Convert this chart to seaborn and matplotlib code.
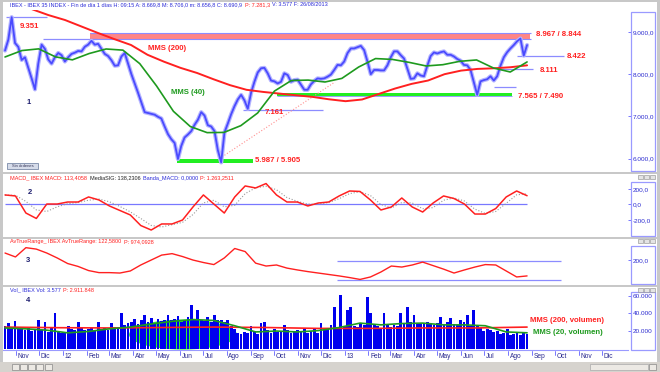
import numpy as np
import pandas as pd
import seaborn as sns
import matplotlib.pyplot as plt
import matplotlib.dates as mdates
import matplotlib.transforms as mtransforms
from matplotlib.patches import Rectangle, Ellipse

# ---- datos (IBEX 35, oct 2011 - ago 2013) ----
price = [8560, 8820, 9351, 8740, 8645, 8337, 8400, 8150, 7900, 7640,
         8250, 8700, 8600, 8350, 8250, 8400, 8502, 8450, 8300, 8400,
         8480, 8510, 8550, 8540, 8650, 8700, 8790, 8700, 8720, 8600,
         8480, 8430, 8330, 8200, 8210, 8420, 8500, 8250, 8000, 7780,
         7560, 7330, 7100, 7080, 7060, 7040, 6990, 6950, 6760, 6580,
         6460, 6370, 5990, 6300, 6500, 6570, 6650, 6800, 6920, 7100,
         7020, 6790, 6760, 6650, 6200, 5910, 6620, 6830, 7050, 7240,
         7400, 7510, 7380, 7180, 7560, 7820, 8040, 8140, 8150, 8020,
         7850, 7830, 7780, 7820, 8020, 7980, 7820, 7860, 7870, 7750,
         7630, 7630, 7760, 7840, 7900, 7890, 7900, 7940, 7990, 8100,
         8220, 8210, 8300, 8500, 8610, 8610, 8640, 8670, 8570, 8300,
         8000, 8100, 8100, 8090, 8090, 8210, 8400, 8540, 8540, 8450,
         8370, 8130, 7890, 7900, 8020, 7970, 7950, 8200, 8430, 8515,
         8490, 8520, 8540, 8460, 8460, 8420, 8360, 8320, 8220, 8210,
         8100, 7800, 7510, 7830, 7860, 7880, 7950, 7850, 7950, 8200,
         8400, 8520, 8610, 8690, 8780, 8844, 8440, 8690]
mms40 = [8408, 8560, 8600, 8410, 8340, 8490, 8597, 8570, 8250, 7720,
         7120, 6760, 6615, 6620, 6780, 7080, 7600, 7850, 7860, 7815,
         7900, 8170, 8370, 8350, 8280, 8195, 8225, 8305, 8337, 8147,
         8052, 8290]
mms200 = [9540, 9400, 9284, 9130, 8976, 8830, 8692, 8460, 8296, 8150,
          8029, 7880, 7740, 7630, 7580, 7540, 7500, 7462, 7405, 7360,
          7400, 7530, 7660, 7770, 7850, 8000, 8085, 8125, 8140, 8165,
          8210]
macd = [123, 110, -110, -180, 6, 6, 32, 32, 97, 58,
        -19, -77, -135, -271, -329, -251, -251, -200, -32, 123,
        6, -110, 97, 239, 213, 270, 123, 32, 32, -19,
        19, 32, 110, 174, 168, 58, -71, -32, 84, -32,
        -97, 19, 110, 77, 6, -123, -123, -52, 97, 174, 113]
macd_sig = [120, 118, 40, -70, -90, -30, 10, 25, 55, 70,
            35, -25, -95, -180, -270, -290, -260, -230, -130, 20,
            55, -30, -10, 140, 215, 235, 190, 90, 40, 5,
            5, 25, 75, 140, 165, 115, 0, -45, 25, 20,
            -55, -40, 55, 85, 45, -60, -115, -90, 15, 125, 138]
atr = [234, 215, 260, 253, 234, 210, 183, 169, 149, 139,
       139, 137, 147, 176, 200, 224, 231, 217, 200, 188,
       178, 210, 256, 241, 185, 171, 176, 161, 152, 144,
       137, 130, 123, 115, 106, 118, 142, 171, 166, 176,
       190, 173, 156, 137, 152, 166, 178, 176, 147, 118, 123]
volume = [26000, 29000, 22000, 31000, 24000, 22000, 21000, 23000, 20000, 22000,
          33000, 21000, 30000, 19000, 24000, 41000, 20000, 18000, 19000,
          26000, 22000, 21000, 30000, 23000, 21000, 22000, 24000, 20000,
          30000, 22000, 23000, 21000, 29000, 25000, 22000, 41000, 27000, 29000,
          30000, 34000, 28000, 33000, 38000, 30000, 35000, 29000, 34000, 31000,
          33000, 38000, 32000, 34000, 37000, 30000, 33000, 36000, 50000, 32000,
          44000, 33000, 31000, 36000, 30000, 38000, 32000, 33000, 30000, 32000,
          26000, 22000, 18000, 17000, 19000, 18000, 26000, 20000, 17000, 29000,
          30000, 21000, 18000, 22000, 19000, 20000, 27000, 21000, 18000, 20000,
          21000, 19000, 22000, 18000, 20000, 23000, 18000, 29000, 21000, 22000,
          27000, 47000, 25000, 61000, 26000, 44000, 47000, 26000, 25000, 29000,
          27000, 59000, 40000, 27000, 26000, 24000, 40000, 27000, 25000, 27000,
          26000, 41000, 28000, 47000, 30000, 38000, 29000, 28000, 29000, 30000,
          28000, 27000, 29000, 36000, 27000, 30000, 35000, 28000, 27000, 32000,
          30000, 38000, 26000, 44000, 27000, 24000, 20000, 22000, 21000, 19000,
          20000, 17000, 18000, 22000, 16000, 17000, 18000, 16000, 19000, 17000]
vol_mms20 = [23500, 22500, 21000, 18000, 19500, 22500, 24500, 28000, 31000, 33000,
             32000, 26000, 19000, 20000, 19000, 20500, 24000, 29000, 27000, 28500,
             29000, 27000, 27000, 26000, 19000, 18000]
vol_mms200 = [24500, 23800, 23500, 24000, 24500, 24000, 23000, 23000, 23500, 23500, 24500]
month_labels = ['Nov', 'Dic', '12', 'Feb', 'Mar', 'Abr', 'May', 'Jun', 'Jul', 'Ago',
                'Sep', 'Oct', 'Nov', 'Dic', '13', 'Feb', 'Mar', 'Abr', 'May', 'Jun',
                'Jul', 'Ago', 'Sep', 'Oct', 'Nov', 'Dic']

START, END = '2011-10-18', '2013-08-26'
d_price = pd.date_range(START, END, periods=len(price))
d_vol = pd.date_range(START, END, periods=len(volume))
d_m40 = pd.date_range(START, END, periods=len(mms40))
d_m200 = pd.date_range('2011-11-22', END, periods=len(mms200))
d_osc = pd.date_range(START, END, periods=len(macd))
d_v20 = pd.date_range(START, END, periods=len(vol_mms20))
d_v200 = pd.date_range(START, END, periods=len(vol_mms200))
months = pd.date_range('2011-11-01', '2013-12-01', freq='MS')

sns.set_style('white')
plt.rcParams['font.family'] = ['Liberation Sans', 'DejaVu Sans']

W, H = 660, 372
fig = plt.figure(figsize=(6.6, 3.72), dpi=100)
fig.patch.set_facecolor('white')


def box(x0, y0, x1, y1):
    return [x0 / W, 1 - y1 / H, (x1 - x0) / W, (y1 - y0) / H]


def rect(x0, y0, x1, y1, **kw):
    fig.patches.append(Rectangle((x0 / W, 1 - y1 / H), (x1 - x0) / W, (y1 - y0) / H,
                                 transform=fig.transFigure, figure=fig, **kw))


def px_date(px):
    return pd.Timestamp('2011-11-01') + pd.Timedelta(days=(px - 15.8) * 1.2987)


def ftext(x, y, s, **kw):
    return fig.text(x / W, 1 - y / H, s, **kw)


ax1 = fig.add_axes(box(3, 10, 628, 172))
ax2 = fig.add_axes(box(3, 174, 628, 237))
ax3 = fig.add_axes(box(3, 239, 628, 285))
ax4 = fig.add_axes(box(3, 287, 628, 350))

BLUE_LINE = '#8c8cff'
RED = '#ff2020'
GREEN = '#1e9a1e'

# ---- panel 1: precio ----
ax1.fill_between([px_date(90), px_date(530)], 8844, 8967, color='#ff8585', lw=0)
ax1.hlines([8967, 8844], px_date(90), px_date(531), color=BLUE_LINE, lw=0.8)
ax1.fill_between([px_date(277), px_date(512)], 7490, 7565, color='#22ee22', lw=0)
ax1.hlines(7490, px_date(277), px_date(512), color=BLUE_LINE, lw=0.6)
ax1.fill_between([px_date(177), px_date(253)], 5905, 5987, color='#22ee22', lw=0)
ax1.hlines(9351, px_date(6), px_date(47), color=BLUE_LINE, lw=0.9)
ax1.hlines(8830, px_date(43), px_date(97), color=BLUE_LINE, lw=0.9)
ax1.hlines(7161, px_date(243), px_date(323), color=BLUE_LINE, lw=0.9)
ax1.hlines(8422, px_date(517), px_date(564), color=BLUE_LINE, lw=0.9)
ax1.hlines(8111, px_date(500), px_date(533), color=BLUE_LINE, lw=0.9)
ax1.hlines(7690, px_date(494), px_date(516), color=BLUE_LINE, lw=0.9)
ax1.plot([px_date(222), px_date(335)], [6040, 7815], color='#ff9090', lw=0.8, ls=':')

sns.lineplot(x=d_price, y=price, ax=ax1, color='#b4b4ff', lw=3.0)
sns.lineplot(x=d_price, y=price, ax=ax1, color='#4a4aff', lw=1.3)
sns.lineplot(x=d_m200, y=mms200, ax=ax1, color=RED, lw=1.4)
sns.lineplot(x=d_m40, y=mms40, ax=ax1, color=GREEN, lw=1.2)
ax1.set_ylim(5682, 9521)

# ---- panel 2: MACD ----
ax2.hlines(0, d_osc[0], d_osc[-1], color='#7878ff', lw=0.9)
sns.lineplot(x=d_osc, y=macd_sig, ax=ax2, color='#999999', lw=0.8, ls=':')
sns.lineplot(x=d_osc, y=macd, ax=ax2, color=RED, lw=1.1)
ax2.set_ylim(-419, 393)

# ---- panel 3: ATR ----
ax3.hlines([197, 103], px_date(337), px_date(561), color=BLUE_LINE, lw=0.9)
sns.lineplot(x=d_osc, y=atr, ax=ax3, color=RED, lw=1.0)
ax3.set_ylim(79, 302)

# ---- panel 4: volumen ----
xc = mdates.date2num(px_date(183))
ax4.add_patch(Ellipse((xc, 16000), 140, 34000, color='#33ee33', lw=0, zorder=0))
ax4.bar(d_vol, volume, width=3.6, color='#0000ee', lw=0, zorder=1)
sns.lineplot(x=d_v200, y=vol_mms200, ax=ax4, color=RED, lw=1.2, zorder=2)
sns.lineplot(x=d_v20, y=vol_mms20, ax=ax4, color=GREEN, lw=1.2, zorder=3)
ax4.set_ylim(-1470, 69900)

ticks = {ax1: ([6000, 7000, 8000, 9000], ['6.000,0', '7.000,0', '8.000,0', '9.000,0']),
         ax2: ([-200, 0, 200], ['-200,0', '0,0', '200,0']),
         ax3: ([200], ['200,0']),
         ax4: ([20000, 40000, 60000], ['20.000', '40.000', '60.000'])}
for ax, (tv, tl) in ticks.items():
    ax.set_xlim(px_date(3), px_date(628))
    ax.set_xticks([])
    ax.set_xlabel('')
    ax.set_ylabel('')
    ax.yaxis.tick_right()
    ax.set_yticks(tv)
    ax.set_yticklabels(tl)
    ax.tick_params(axis='y', length=2.2, width=0.6, color='#6060ff', labelcolor='#2a2ad0',
                   labelsize=4.6, pad=1.4)
    for s in ax.spines.values():
        s.set_visible(False)
ax4.spines['bottom'].set_visible(True)
ax4.spines['bottom'].set_color('#9a9aff')
ax4.spines['bottom'].set_linewidth(0.8)

# etiquetas de meses
trans = mtransforms.blended_transform_factory(ax4.transData, fig.transFigure)
for d, lab in zip(months, month_labels):
    xn = mdates.date2num(d)
    ax4.plot([xn, xn], [1 - 350.5 / H, 1 - 355 / H], transform=trans, color='#6060ff',
             lw=0.6, clip_on=False)
    ax4.text(xn + 2.2, 1 - 357 / H, lab, transform=trans, fontsize=4.8, color='#2a2a90',
             ha='left', va='center')

# ---- marco de ventana ----
GRAY = '#c8c8c8'
rect(0, 0, 660, 2, color=GRAY, lw=0)
rect(0, 0, 3, 362, color=GRAY, lw=0)
rect(657, 0, 660, 362, color=GRAY, lw=0)
for y0, y1 in [(172, 174), (237, 239), (285, 287)]:
    rect(0, y0, 660, y1, color=GRAY, lw=0)
rect(0, 362, 660, 372, color='#d6d3ce', lw=0)
for x in [12, 20, 28, 36, 45]:
    rect(x, 364, x + 7, 370, facecolor='#ece9e4', edgecolor='#888888', lw=0.5)
rect(590, 364, 648, 370, facecolor='#ece9e4', edgecolor='#aaaaaa', lw=0.5)
rect(649, 364, 656, 370, facecolor='#ece9e4', edgecolor='#888888', lw=0.5)
for y0, y1 in [(12, 171), (182, 236), (246, 284), (292, 350)]:
    rect(631, y0, 655, y1, fill=False, edgecolor='#9a9aff', lw=0.9)
for y0 in [175, 239, 288]:
    for x in [638, 644, 650]:
        rect(x, y0, x + 5, y0 + 4, facecolor='#e4e4e4', edgecolor='#8a8a8a', lw=0.4)

rect(7, 163, 38, 169, facecolor='#d6dcea', edgecolor='#7a8aa8', lw=0.6)
ftext(22.5, 166, 'Sin órdenes', fontsize=3.0, color='#333355', ha='center', va='center')

# ---- textos de cabecera ----
renderer = fig.canvas.get_renderer()


def colored_line(x, y, parts, size=4.0):
    for txt, col in parts:
        t = ftext(x, y, txt, color=col, fontsize=size, va='center', ha='left')
        x += t.get_window_extent(renderer).width + 2.5


colored_line(10, 5, [('IBEX - IBEX 35 INDEX - Fin de día 1 días H: 09:15 A: 8.669,8 '
                      'M: 8.706,0 m: 8.656,8 C: 8.690,9', '#2b2bd8'),
                     ('P: 7.281,3', '#ff2020'), ('V: 3.577 F: 26/08/2013', '#2b2bd8')])
colored_line(10, 177.5, [('MACD_ IBEX MACD: 113,4058', '#ff2020'),
                         ('MediaSIG: 138,2306', '#222222'),
                         ('Banda_MACD: 0,0000', '#2b2bd8'), ('P: 1.263,2511', '#ff2020')])
colored_line(10, 242, [('AvTrueRange_ IBEX AvTrueRange: 122,5800', '#ff2020'),
                       ('P: 974,0928', '#ff2020')])
colored_line(10, 290, [('Vol_ IBEX Vol: 3.577', '#2b2bd8'), ('P: 2.911.848', '#ff2020')])

# ---- anotaciones ----
lab = dict(fontsize=5.6, fontweight='bold', va='center', ha='left')
ftext(20, 26, '9.351', color=RED, **lab)
ftext(148, 48, 'MMS (200)', color=RED, **lab)
ftext(171, 93, 'MMS (40)', color=GREEN, **lab)
ftext(265, 113, '7.161', color=RED, **lab)
ftext(255, 160, '5.987 / 5.905', color=RED, **lab)
ftext(536, 35, '8.967 / 8.844', color=RED, **lab)
ftext(567, 57, '8.422', color=RED, **lab)
ftext(540, 71, '8.111', color=RED, **lab)
ftext(518, 96, '7.565 / 7.490', color=RED, **lab)
ftext(530, 321, 'MMS (200, volumen)', color=RED, **lab)
ftext(533, 333, 'MMS (20, volumen)', color=GREEN, **lab)
num = dict(fontsize=5.5, fontweight='bold', color='#1c1c6e', ha='center', va='center')
ftext(29, 102, '1', **num)
ftext(30, 192, '2', **num)
ftext(28, 260, '3', **num)
ftext(28, 301, '4', **num)

fig.savefig('out.png', dpi=100, facecolor=fig.get_facecolor())
